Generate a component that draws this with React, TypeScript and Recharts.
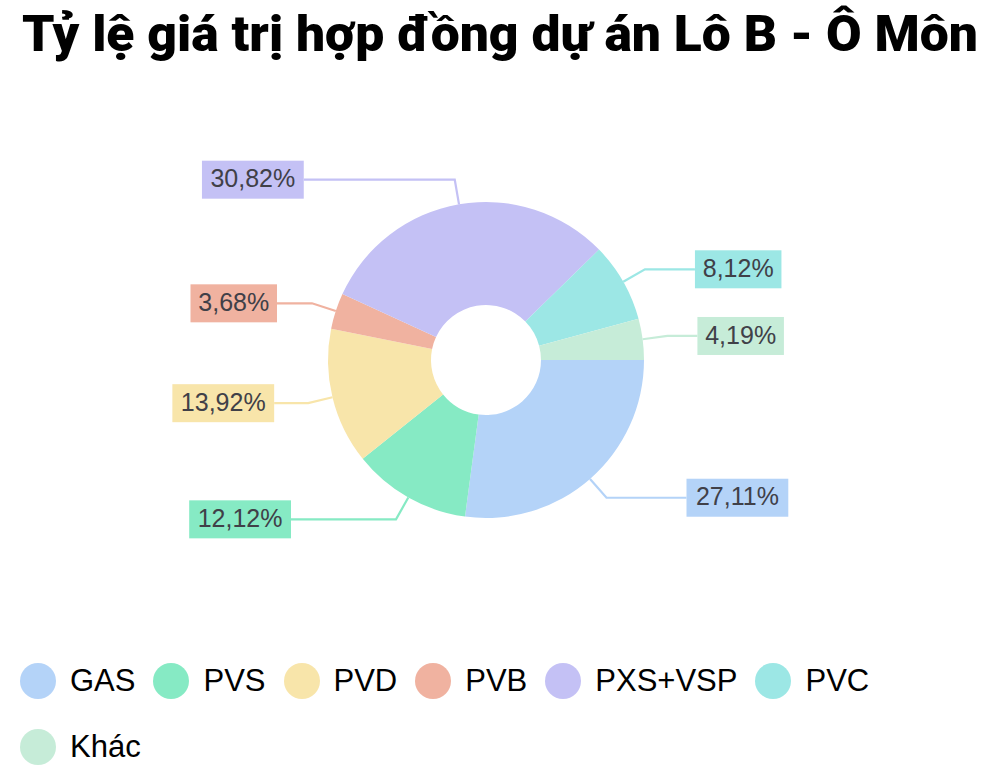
import { PieChart, Pie, Cell, Legend } from 'recharts';

const categories = ['GAS', 'PVS', 'PVD', 'PVB', 'PXS+VSP', 'PVC', 'Khác'];
const shares = [27.11, 12.12, 13.92, 3.68, 30.82, 8.12, 4.19];
const colors = ['#b4d3f8', '#86eac4', '#f8e5aa', '#f0b2a0', '#c4c1f5', '#9ce7e5', '#c6ecd8'];

// horizontal run of each leader line after the elbow
const leaderReach: Record<string, number> = {
  GAS: 80,
  PVS: 105,
  PVD: 34,
  PVB: 35,
  'PXS+VSP': 151,
  PVC: 50,
  'Khác': 30,
};

const data = categories.map((name, i) => ({ name, value: shares[i], color: colors[i] }));

const RADIAN = Math.PI / 180;
const fmt = (v: number) => v.toFixed(2).replace('.', ',') + '%';

const renderLabel = (props: any) => {
  const { cx, cy, midAngle, outerRadius, payload, value } = props;
  const cos = Math.cos(-midAngle * RADIAN);
  const sin = Math.sin(-midAngle * RADIAN);
  const sx = cx + outerRadius * cos;
  const sy = cy + outerRadius * sin;
  const mx = cx + (outerRadius + 25) * cos;
  const my = cy + (outerRadius + 25) * sin;
  const right = cos >= 0;
  const reach = leaderReach[payload.name] ?? 30;
  const ex = mx + (right ? reach : -reach);
  const text = fmt(value);
  const boxW = text.length * 15.3 + 10;
  const boxH = 38;
  const bx = right ? ex : ex - boxW;
  return (
    <g>
      <polyline
        points={`${sx},${sy} ${mx},${my} ${ex},${my}`}
        fill="none"
        stroke={payload.color}
        strokeWidth={2.2}
      />
      <rect x={bx} y={my - boxH / 2} width={boxW} height={boxH} fill={payload.color} />
      <text
        x={bx + boxW / 2}
        y={my + 1}
        textAnchor="middle"
        dominantBaseline="middle"
        fontSize={25}
        fontFamily="'Liberation Sans', Arial, sans-serif"
        fill="#404048"
      >
        {text}
      </text>
    </g>
  );
};

const LegendContent = () => (
  <div
    style={{
      display: 'flex',
      flexWrap: 'wrap',
      rowGap: 30,
      fontFamily: "'Liberation Sans', Arial, sans-serif",
      fontSize: 31,
      color: '#000',
    }}
  >
    {data.map((d) => (
      <div key={d.name} style={{ display: 'flex', alignItems: 'center', marginRight: 18, height: 36 }}>
        <span
          style={{
            width: 36,
            height: 36,
            borderRadius: '50%',
            background: d.color,
            display: 'inline-block',
            marginRight: 14,
          }}
        />
        <span>{d.name}</span>
      </div>
    ))}
  </div>
);

export default function App() {
  return (
    <div style={{ position: 'relative', width: 1000, height: 770, background: '#fff' }}>
      <style>{'body{margin:0;}'}</style>
      <svg width={1000} height={70} style={{ position: 'absolute', left: 0, top: 0 }}>
        <text
          x={22}
          y={51}
          textLength={956}
          lengthAdjust="spacingAndGlyphs"
          fontSize={50}
          fontWeight={900}
          fontFamily="Roboto, 'Liberation Sans', sans-serif"
          fill="#000"
        >
          Tỷ lệ giá trị hợp đồng dự án Lô B - Ô Môn
        </text>
      </svg>
      <PieChart width={1000} height={770} margin={{ top: 0, right: 0, bottom: 0, left: 0 }}>
        <Pie
          data={data}
          dataKey="value"
          nameKey="name"
          cx={486}
          cy={360}
          innerRadius={55}
          outerRadius={158}
          startAngle={0}
          endAngle={-360}
          stroke="none"
          label={renderLabel}
          labelLine={false}
          isAnimationActive={false}
        >
          {data.map((d) => (
            <Cell key={d.name} fill={d.color} />
          ))}
        </Pie>
        <Legend
          content={<LegendContent />}
          wrapperStyle={{ position: 'absolute', top: 663, left: 20, width: 970 }}
        />
      </PieChart>
    </div>
  );
}
